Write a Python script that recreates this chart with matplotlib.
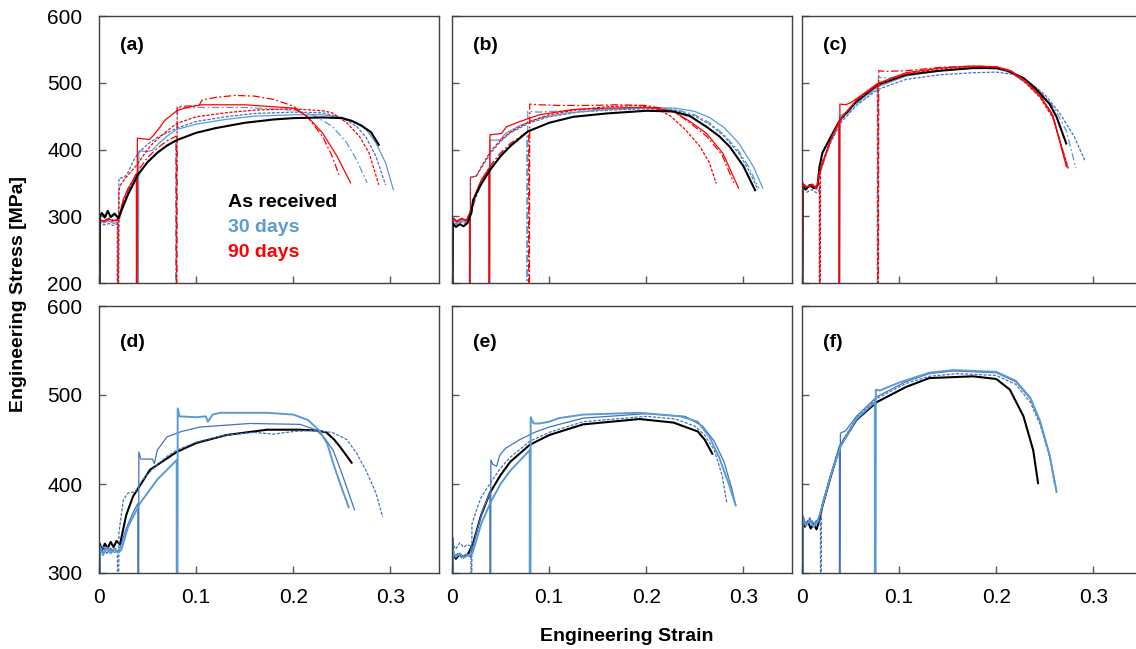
import matplotlib
matplotlib.use('Agg')
import matplotlib.pyplot as plt

plt.rcParams['font.family'] = ['Liberation Sans', 'DejaVu Sans']

# ---- data: (strain, stress MPa) points ----
# panel (a)
A_AR = [(0, 0), (0.0008, 300), (0.003, 305), (0.006, 298), (0.009, 308), (0.012, 299), (0.016, 304),
        (0.020, 297), (0.024, 312), (0.03, 333), (0.04, 362), (0.05, 381), (0.06, 395), (0.07, 406),
        (0.08, 414), (0.10, 425), (0.12, 432), (0.15, 440), (0.18, 445), (0.20, 447), (0.23, 448),
        (0.25, 447), (0.26, 443), (0.27, 436), (0.275, 431), (0.28, 426), (0.288, 407)]
A_30_02 = [(0, 0), (0.0008, 292), (0.005, 287), (0.01, 289), (0.015, 286), (0.019, 289), (0.019, 0),
           (0.0195, 0), (0.0205, 357), (0.026, 358), (0.03, 366), (0.035, 382), (0.04, 394), (0.05, 408),
           (0.06, 418), (0.08, 432), (0.10, 442), (0.13, 449), (0.16, 454), (0.2, 456), (0.23, 455),
           (0.25, 448), (0.265, 435), (0.275, 418), (0.285, 390), (0.295, 347)]
A_30_04 = [(0, 0), (0.0008, 296), (0.005, 290), (0.01, 293), (0.015, 289), (0.02, 292), (0.025, 318),
           (0.03, 337), (0.035, 350), (0.0395, 360), (0.0395, 0), (0.040, 0), (0.041, 398), (0.05, 397),
           (0.055, 399), (0.06, 407), (0.07, 420), (0.08, 430), (0.1, 438), (0.13, 445), (0.16, 450),
           (0.2, 452), (0.23, 452), (0.25, 448), (0.265, 440), (0.275, 430), (0.285, 410), (0.295, 380),
           (0.303, 340)]
A_30_08 = [(0, 0), (0.0008, 303), (0.004, 300), (0.008, 306), (0.012, 298), (0.017, 302), (0.021, 296),
           (0.025, 314), (0.03, 334), (0.04, 363), (0.05, 382), (0.06, 396), (0.07, 405), (0.079, 413),
           (0.079, 0), (0.0795, 0), (0.0805, 463), (0.09, 462), (0.1, 463), (0.12, 463), (0.15, 463),
           (0.2, 459), (0.22, 452), (0.24, 435), (0.255, 410), (0.265, 385), (0.276, 350)]
A_90_02 = [(0, 0), (0.0008, 294), (0.005, 292), (0.01, 295), (0.015, 292), (0.019, 294), (0.019, 0),
           (0.0195, 0), (0.0205, 340), (0.023, 349), (0.03, 362), (0.039, 377), (0.05, 400), (0.056, 410),
           (0.07, 428), (0.08, 439), (0.1, 449), (0.13, 455), (0.16, 459), (0.2, 461), (0.23, 458),
           (0.24, 455), (0.255, 440), (0.268, 420), (0.278, 395), (0.288, 347)]
A_90_04 = [(0, 0), (0.0008, 295), (0.005, 292), (0.01, 296), (0.015, 293), (0.02, 296), (0.025, 325),
           (0.03, 342), (0.035, 354), (0.0385, 364), (0.0385, 0), (0.039, 0), (0.0395, 417), (0.045, 416),
           (0.052, 415), (0.056, 421), (0.062, 432), (0.068, 444), (0.075, 452), (0.08, 458), (0.09, 463),
           (0.106, 467), (0.15, 467), (0.2, 462), (0.214, 450), (0.23, 425), (0.245, 390), (0.259, 350)]
A_90_08 = [(0, 0), (0.0008, 296), (0.005, 293), (0.01, 297), (0.015, 294), (0.02, 296), (0.025, 322),
           (0.03, 340), (0.04, 368), (0.05, 388), (0.06, 402), (0.07, 413), (0.0795, 420), (0.0795, 0),
           (0.080, 0), (0.0805, 464), (0.09, 465), (0.103, 466), (0.106, 474), (0.12, 478), (0.14, 481),
           (0.16, 480), (0.18, 475), (0.2, 465), (0.215, 448), (0.23, 420), (0.24, 390), (0.247, 362)]

# panel (b)
B_AR = [(0, 0), (0.0008, 290), (0.004, 284), (0.008, 288), (0.012, 285), (0.016, 290), (0.02, 305),
        (0.0216, 324), (0.03, 348), (0.039, 369), (0.05, 390), (0.06, 405), (0.078, 427), (0.1, 440),
        (0.125, 449), (0.159, 454), (0.2, 458), (0.228, 457), (0.245, 450), (0.262, 434), (0.275, 420),
        (0.286, 404), (0.3, 375), (0.312, 339)]
B_30_02 = [(0, 0), (0.0008, 293), (0.005, 288), (0.01, 291), (0.015, 289), (0.018, 292), (0.018, 0),
           (0.0185, 0), (0.019, 359), (0.025, 360), (0.03, 372), (0.04, 395), (0.05, 412), (0.06, 425),
           (0.08, 440), (0.1, 449), (0.13, 456), (0.16, 459), (0.2, 461), (0.23, 459), (0.25, 450),
           (0.265, 438), (0.28, 420), (0.295, 395), (0.305, 370), (0.315, 340)]
B_30_04 = [(0, 0), (0.0008, 296), (0.005, 290), (0.01, 294), (0.015, 291), (0.02, 310), (0.025, 335),
           (0.03, 352), (0.038, 370), (0.038, 0), (0.0385, 0), (0.039, 414), (0.045, 414), (0.05, 415),
           (0.055, 424), (0.07, 436), (0.09, 447), (0.12, 455), (0.16, 460), (0.2, 463), (0.23, 462),
           (0.25, 457), (0.265, 448), (0.28, 433), (0.295, 410), (0.31, 375), (0.32, 342)]
B_30_08 = [(0, 0), (0.0008, 294), (0.005, 289), (0.01, 293), (0.015, 290), (0.02, 308), (0.03, 350),
           (0.04, 375), (0.05, 393), (0.06, 407), (0.077, 425), (0.077, 0), (0.0775, 0), (0.078, 457),
           (0.09, 456), (0.1, 457), (0.13, 459), (0.17, 461), (0.2, 462), (0.23, 460), (0.25, 452),
           (0.265, 440), (0.28, 422), (0.295, 398), (0.305, 375), (0.316, 342)]
B_90_02 = [(0, 0), (0.0008, 297), (0.005, 292), (0.01, 296), (0.015, 293), (0.018, 297), (0.018, 0),
           (0.0185, 0), (0.019, 358), (0.025, 360), (0.03, 374), (0.04, 398), (0.05, 414), (0.06, 426),
           (0.08, 442), (0.1, 452), (0.13, 460), (0.16, 464), (0.19, 466), (0.21, 462), (0.225, 450),
           (0.24, 430), (0.255, 405), (0.265, 380), (0.272, 349)]
B_90_04 = [(0, 0), (0.0008, 298), (0.005, 293), (0.01, 297), (0.015, 294), (0.02, 312), (0.025, 337),
           (0.03, 354), (0.038, 372), (0.038, 0), (0.0385, 0), (0.039, 422), (0.045, 423), (0.051, 424),
           (0.056, 434), (0.07, 442), (0.09, 452), (0.125, 460), (0.16, 462), (0.193, 463), (0.21, 462),
           (0.228, 457), (0.245, 442), (0.262, 424), (0.279, 394), (0.295, 342)]
B_90_08 = [(0, 0), (0.0008, 297), (0.005, 292), (0.01, 296), (0.015, 293), (0.02, 310), (0.03, 352),
           (0.04, 377), (0.05, 395), (0.06, 409), (0.079, 428), (0.079, 0), (0.0795, 0), (0.080, 468),
           (0.09, 467), (0.11, 466), (0.14, 466), (0.17, 467), (0.2, 466), (0.215, 462), (0.23, 455),
           (0.245, 440), (0.262, 420), (0.278, 392), (0.29, 350)]

# panel (c)
C_AR = [(0, 0), (0.0008, 345), (0.004, 340), (0.008, 347), (0.012, 342), (0.016, 346), (0.018, 374),
        (0.021, 395), (0.03, 420), (0.039, 444), (0.056, 472), (0.078, 497), (0.107, 512), (0.142, 518),
        (0.176, 522), (0.2, 522), (0.21, 519), (0.228, 507), (0.24, 492), (0.248, 479), (0.255, 468),
        (0.262, 449), (0.272, 409)]
C_30_02 = [(0, 0), (0.0008, 344), (0.005, 336), (0.01, 340), (0.015, 335), (0.018, 340), (0.018, 0),
           (0.0185, 0), (0.019, 372), (0.025, 392), (0.03, 412), (0.04, 440), (0.056, 466), (0.078, 490),
           (0.107, 505), (0.142, 512), (0.176, 515), (0.2, 516), (0.22, 512), (0.235, 500), (0.25, 482),
           (0.265, 455), (0.28, 420), (0.291, 384)]
C_30_04 = [(0, 0), (0.0008, 348), (0.005, 342), (0.01, 346), (0.015, 341), (0.018, 360), (0.025, 395),
           (0.03, 414), (0.038, 440), (0.038, 0), (0.0385, 0), (0.039, 450), (0.045, 455), (0.056, 470),
           (0.078, 494), (0.107, 510), (0.142, 518), (0.176, 522), (0.2, 521), (0.215, 515), (0.23, 500),
           (0.245, 480), (0.258, 450), (0.274, 372)]
C_30_08 = [(0, 0), (0.0008, 347), (0.005, 341), (0.01, 345), (0.015, 340), (0.018, 362), (0.025, 394),
           (0.03, 413), (0.04, 443), (0.056, 468), (0.0775, 492), (0.0775, 0), (0.078, 0), (0.0785, 508),
           (0.09, 507), (0.107, 512), (0.142, 519), (0.176, 523), (0.2, 523), (0.215, 517), (0.23, 505),
           (0.245, 487), (0.26, 462), (0.272, 428), (0.282, 372)]
C_90_02 = [(0, 0), (0.0008, 350), (0.005, 343), (0.01, 348), (0.015, 344), (0.018, 349), (0.018, 0),
           (0.0185, 0), (0.019, 375), (0.025, 396), (0.03, 416), (0.04, 446), (0.056, 474), (0.078, 498),
           (0.107, 513), (0.142, 521), (0.176, 524), (0.2, 523), (0.215, 517), (0.23, 500), (0.245, 478),
           (0.258, 448), (0.274, 372)]
C_90_04 = [(0, 0), (0.0008, 349), (0.005, 344), (0.01, 348), (0.015, 343), (0.018, 365), (0.025, 396),
           (0.03, 416), (0.038, 442), (0.038, 0), (0.0385, 0), (0.039, 468), (0.045, 467), (0.05, 470),
           (0.056, 476), (0.078, 499), (0.107, 515), (0.142, 522), (0.176, 525), (0.2, 524), (0.215, 518),
           (0.23, 503), (0.245, 481), (0.258, 452), (0.272, 375)]
C_90_08 = [(0, 0), (0.0008, 348), (0.005, 343), (0.01, 347), (0.015, 342), (0.018, 364), (0.025, 396),
           (0.03, 416), (0.04, 446), (0.056, 474), (0.078, 497), (0.078, 0), (0.0785, 0), (0.079, 518),
           (0.085, 517), (0.107, 518), (0.142, 523), (0.176, 525), (0.2, 524), (0.215, 517), (0.23, 502),
           (0.245, 480), (0.258, 452), (0.273, 373)]

# panel (d)
D_AR = [(0, 0), (0.0008, 333), (0.003, 325), (0.006, 333), (0.009, 328), (0.012, 335), (0.015, 329),
        (0.018, 336), (0.0216, 332), (0.028, 365), (0.035, 386), (0.0525, 416), (0.08, 436), (0.1, 446),
        (0.131, 455), (0.173, 461), (0.207, 461), (0.225, 460), (0.234, 458), (0.242, 450), (0.248, 442),
        (0.26, 424)]
D_30_02 = [(0, 0), (0.0008, 330), (0.004, 322), (0.008, 330), (0.012, 325), (0.016, 328), (0.019, 326),
           (0.019, 0), (0.0195, 0), (0.0205, 345), (0.025, 382), (0.03, 390), (0.037, 391), (0.045, 405),
           (0.06, 422), (0.07, 431), (0.08, 438), (0.1, 447), (0.13, 455), (0.16, 458), (0.18, 456),
           (0.2, 459), (0.22, 460), (0.24, 458), (0.255, 450), (0.265, 435), (0.275, 415), (0.285, 390),
           (0.292, 363)]
D_30_04 = [(0, 0), (0.0008, 320), (0.004, 330), (0.008, 322), (0.012, 328), (0.016, 323), (0.021, 326),
           (0.028, 350), (0.035, 368), (0.04, 378), (0.04, 0), (0.0405, 0), (0.041, 436), (0.043, 428),
           (0.05, 428), (0.055, 428), (0.057, 423), (0.06, 438), (0.07, 453), (0.085, 459), (0.104, 464),
           (0.155, 468), (0.207, 467), (0.223, 461), (0.232, 452), (0.241, 438), (0.25, 412), (0.257, 390),
           (0.263, 371)]
D_30_08 = [(0, 0), (0.0008, 330), (0.004, 320), (0.008, 328), (0.012, 322), (0.016, 327), (0.02, 323),
           (0.023, 326), (0.03, 352), (0.042, 378), (0.06, 405), (0.08, 427), (0.08, 0), (0.0805, 0),
           (0.081, 485), (0.083, 476), (0.1, 475), (0.11, 476), (0.112, 470), (0.117, 478), (0.125, 480),
           (0.173, 480), (0.2, 478), (0.215, 472), (0.227, 460), (0.235, 445), (0.242, 420), (0.25, 395),
           (0.257, 374)]

# panel (e)
E_AR = [(0, 0), (0.0008, 322), (0.004, 316), (0.008, 321), (0.012, 318), (0.016, 320), (0.0216, 333),
        (0.03, 365), (0.039, 390), (0.05, 410), (0.06, 425), (0.08, 444), (0.1, 455), (0.135, 467),
        (0.193, 473), (0.228, 469), (0.253, 459), (0.26, 450), (0.268, 434)]
E_30_02 = [(0, 0), (0.0008, 332), (0.004, 327), (0.008, 334), (0.012, 329), (0.016, 332), (0.0195, 330),
           (0.0195, 0), (0.02, 0), (0.0205, 355), (0.025, 370), (0.03, 385), (0.04, 402), (0.05, 418),
           (0.06, 430), (0.08, 448), (0.1, 458), (0.135, 470), (0.2, 476), (0.23, 473), (0.25, 465),
           (0.26, 455), (0.27, 438), (0.278, 410), (0.283, 378)]
E_30_04 = [(0, 0), (0.0008, 340), (0.002, 318), (0.006, 322), (0.01, 317), (0.014, 321), (0.019, 318),
           (0.025, 345), (0.032, 372), (0.039, 390), (0.039, 0), (0.0395, 0), (0.04, 427), (0.042, 422),
           (0.046, 420), (0.049, 432), (0.055, 440), (0.07, 450), (0.085, 458), (0.1, 464), (0.135, 474),
           (0.2, 479), (0.24, 476), (0.258, 465), (0.27, 448), (0.28, 425), (0.288, 395), (0.292, 376)]
E_30_08 = [(0, 0), (0.0008, 325), (0.004, 318), (0.008, 322), (0.012, 317), (0.016, 320), (0.021, 322),
           (0.03, 355), (0.04, 380), (0.05, 400), (0.06, 415), (0.08, 438), (0.08, 0), (0.0805, 0),
           (0.081, 475), (0.084, 468), (0.09, 468), (0.1, 470), (0.11, 474), (0.135, 478), (0.193, 480),
           (0.235, 476), (0.253, 470), (0.265, 453), (0.275, 430), (0.285, 400), (0.292, 376)]

# panel (f)
F_AR = [(0, 0), (0.0008, 362), (0.003, 352), (0.006, 358), (0.009, 350), (0.012, 355), (0.015, 349),
        (0.018, 360), (0.021, 375), (0.03, 410), (0.039, 442), (0.056, 472), (0.077, 492), (0.107, 509),
        (0.131, 519), (0.176, 521), (0.2, 518), (0.214, 506), (0.228, 476), (0.238, 438), (0.243, 401)]
F_30_02 = [(0, 0), (0.0008, 360), (0.004, 354), (0.008, 362), (0.012, 356), (0.016, 360), (0.019, 358),
           (0.019, 0), (0.0195, 0), (0.02, 375), (0.03, 412), (0.039, 444), (0.056, 474), (0.077, 496),
           (0.107, 513), (0.131, 521), (0.16, 524), (0.2, 522), (0.22, 512), (0.235, 492), (0.245, 467),
           (0.255, 430), (0.26, 400)]
F_30_04 = [(0, 0), (0.0008, 365), (0.004, 355), (0.008, 361), (0.012, 354), (0.016, 359), (0.02, 372),
           (0.03, 412), (0.0385, 440), (0.0385, 0), (0.039, 0), (0.0395, 457), (0.045, 460), (0.056, 476),
           (0.077, 498), (0.107, 515), (0.131, 524), (0.156, 527), (0.2, 525), (0.22, 515), (0.235, 496),
           (0.245, 470), (0.255, 432), (0.262, 393)]
F_30_08 = [(0, 0), (0.0008, 362), (0.004, 353), (0.008, 359), (0.012, 352), (0.016, 357), (0.02, 372),
           (0.03, 411), (0.04, 443), (0.056, 473), (0.075, 492), (0.075, 0), (0.0755, 0), (0.076, 506),
           (0.08, 505), (0.1, 514), (0.131, 525), (0.156, 528), (0.2, 526), (0.22, 516), (0.235, 497),
           (0.245, 471), (0.255, 432), (0.262, 391)]

PANEL_LABELS = ['(a)', '(b)', '(c)', '(d)', '(e)', '(f)']
X_TICKS = [0, 0.1, 0.2, 0.3]
X_TICK_LABELS = ['0', '0.1', '0.2', '0.3']
Y_TICKS_TOP = [200, 300, 400, 500, 600]
Y_TICKS_BOTTOM = [300, 400, 500, 600]
LEGEND_LABELS = ['As received', '30 days', '90 days']

BLUE = '#5B9BD5'
DBLUE = '#4472C4'
RED = '#FF0000'

STYLES = {
    'ar': dict(color='black', lw=1.5, ls='-'),
    'b02': dict(color=DBLUE, lw=0.9, ls=(0, (2.5, 1.2))),
    'b04': dict(color=BLUE, lw=0.9, ls='-'),
    'b08': dict(color=BLUE, lw=0.9, ls=(0, (6, 2, 1.5, 2))),
    'r02': dict(color=RED, lw=0.9, ls=(0, (2.5, 1.2))),
    'r04': dict(color=RED, lw=0.9, ls='-'),
    'r08': dict(color=RED, lw=0.9, ls=(0, (6, 2, 1.5, 2))),
    'd02': dict(color=DBLUE, lw=0.9, ls=(0, (2.5, 1.2))),
    'd04': dict(color=DBLUE, lw=0.9, ls='-'),
    'd08': dict(color=BLUE, lw=1.4, ls='-'),
}

PANELS = [
    [(A_30_02, 'b02'), (A_30_04, 'b04'), (A_30_08, 'b08'), (A_90_02, 'r02'), (A_90_04, 'r04'),
     (A_90_08, 'r08'), (A_AR, 'ar')],
    [(B_30_02, 'b02'), (B_30_04, 'b04'), (B_30_08, 'b08'), (B_90_02, 'r02'), (B_90_04, 'r04'),
     (B_90_08, 'r08'), (B_AR, 'ar')],
    [(C_30_02, 'b02'), (C_30_04, 'b04'), (C_30_08, 'b08'), (C_AR, 'ar'), (C_90_02, 'r02'),
     (C_90_04, 'r04'), (C_90_08, 'r08')],
    [(D_AR, 'ar'), (D_30_02, 'd02'), (D_30_04, 'd04'), (D_30_08, 'd08')],
    [(E_AR, 'ar'), (E_30_02, 'd02'), (E_30_04, 'd04'), (E_30_08, 'd08')],
    [(F_AR, 'ar'), (F_30_02, 'd02'), (F_30_04, 'd04'), (F_30_08, 'd08')],
]

fig = plt.figure(figsize=(11.36, 6.49), dpi=100)

lefts = [99 / 1136, 452 / 1136, 802 / 1136]
bottoms = [1 - 283 / 649, 1 - 573 / 649]
w = 340 / 1136
h = 267 / 649

for i, curves in enumerate(PANELS):
    row, col = divmod(i, 3)
    ax = fig.add_axes([lefts[col], bottoms[row], w, h])
    for pts, key in curves:
        xs = [p[0] for p in pts]
        ys = [p[1] for p in pts]
        ax.plot(xs, ys, solid_joinstyle='round', **STYLES[key])

    ax.set_xlim(0, 0.35)
    if row == 0:
        ax.set_ylim(200, 600)
        ax.set_yticks(Y_TICKS_TOP)
    else:
        ax.set_ylim(300, 600)
        ax.set_yticks(Y_TICKS_BOTTOM)
    ax.set_xticks(X_TICKS)
    ax.set_xticklabels(X_TICK_LABELS)
    ax.tick_params(direction='in', length=5, width=1, color='#595959', labelsize=15, pad=11)
    ax.tick_params(axis='y', pad=12)
    if row == 0:
        ax.tick_params(labelbottom=False)
    if col > 0:
        ax.tick_params(labelleft=False)
    for sp in ax.spines.values():
        sp.set_color('#404040')
        sp.set_linewidth(1)

    ly = 0.89 if row == 0 else 0.865
    ax.text(0.062, ly, PANEL_LABELS[i], transform=ax.transAxes, fontsize=14, fontweight='bold',
            va='center', ha='left')

    if i == 0:
        for lab, c, yy in zip(LEGEND_LABELS, ['black', BLUE, RED], [0.30, 0.206, 0.116]):
            ax.text(0.38, yy, lab, color=c, transform=ax.transAxes, fontsize=14, fontweight='bold',
                    va='center', ha='left')

fig.text(0.552, 0.02, 'Engineering Strain', ha='center', va='center', fontsize=14, fontweight='bold')
fig.text(0.016, 0.547, 'Engineering Stress [MPa]', ha='center', va='center', rotation=90,
         fontsize=14, fontweight='bold')

fig.savefig('out.png', dpi=100)
